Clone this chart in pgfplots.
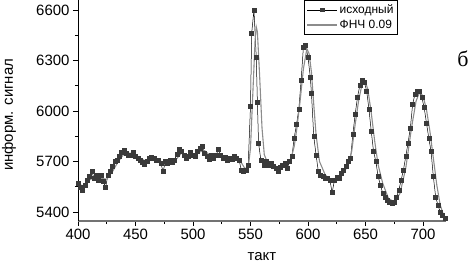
\documentclass[border=0pt]{standalone}
\usepackage{pgfplots}
\pgfplotsset{compat=1.18}
\usepackage{fontspec}
\setmainfont{Liberation Sans}
\newfontfamily\seriffont{Liberation Serif}
\definecolor{rawc}{HTML}{3A3A3A}
\definecolor{filtc}{HTML}{8C8C8C}
\begin{document}
\begin{tikzpicture}
\useasboundingbox (-78bp,-46bp) rectangle (392bp,221bp);
\begin{axis}[at={(0,0)}, anchor=south west, scale only axis,
  width=368bp, height=221bp,
  xmin=400, xmax=720, ymin=5346.5, ymax=6659.4,
  axis x line*=bottom, axis y line*=left,
  x axis line style={-, draw=black!55, line width=1.4bp},
  y axis line style={-, draw=black, line width=0.9bp},
  xtick={400,450,...,700}, ytick={5400,5700,6000,6300,6600},
  minor x tick num=1, minor y tick num=1,
  tick align=outside, major tick length=5bp, minor tick length=3bp,
  tick style={black, line width=0.7bp},
  tick label style={font=\fontsize{15}{18}\selectfont},
  /pgf/number format/assume math mode=true,
  /pgf/number format/1000 sep={},
  xlabel={такт}, ylabel={информ. сигнал},
  label style={font=\fontsize{15}{18}\selectfont},
  xlabel style={at={(axis description cs:0.5,-0.163)}, anchor=center},
  ylabel style={at={(axis description cs:-0.1875,0.48)}, anchor=center},
  legend style={at={(rel axis cs:0.615,0.998)}, anchor=north west,
    font=\fontsize{12}{14}\selectfont, draw=black, line width=0.6bp,
    inner sep=2bp, row sep=1bp},
  legend cell align=left,
]
\addplot[black, line width=0.5bp, mark=square*, mark size=2bp,
  mark options={draw=rawc, fill=rawc},
  legend image code/.code={
    \draw[black, line width=0.5bp] (0bp,0bp) -- (30bp,0bp);
    \fill[rawc] (13bp,-1.8bp) rectangle (16.6bp,1.8bp);}] coordinates {
(400,5570)(402,5545)(404,5530)(406,5560)(408,5590)(410,5610)(412,5640)(414,5600)
(416,5620)(418,5590)(420,5620)(422,5580)(424,5545)(426,5620)(428,5640)(430,5670)
(432,5700)(434,5710)(436,5730)(438,5755)(440,5765)(442,5750)(444,5740)(446,5735)
(448,5755)(450,5730)(452,5720)(454,5710)(456,5695)(458,5685)(460,5700)(462,5720)
(464,5725)(466,5720)(468,5705)(470,5710)(472,5690)(474,5640)(476,5700)(478,5690)
(480,5705)(482,5695)(484,5710)(486,5745)(488,5775)(490,5760)(492,5735)(494,5720)
(496,5730)(498,5755)(500,5740)(502,5730)(504,5760)(506,5780)(508,5790)(510,5750)
(512,5730)(514,5715)(516,5740)(518,5720)(520,5735)(522,5770)(524,5740)(526,5720)
(528,5725)(530,5710)(532,5720)(534,5715)(536,5730)(538,5720)(540,5710)(542,5650)
(544,5640)(546,5650)(548,5680)(550,6030)(551,6460)(553,6600)(555,6320)(556,6050)
(557,5810)(559,5710)(562,5680)(564,5700)(566,5680)(568,5690)(570,5670)(572,5660)
(574,5640)(576,5665)(578,5680)(580,5690)(582,5660)(584,5700)(586,5730)(588,5840)
(590,5920)(592,6010)(594,6180)(596,6380)(598,6390)(600,6320)(602,6200)(603,6105)
(605,5850)(607,5740)(609,5640)(611,5620)(613,5610)(615,5600)(617,5600)(619,5590)
(621,5515)(623,5590)(625,5605)(627,5600)(629,5630)(631,5650)(633,5670)(635,5700)
(637,5720)(639,5860)(641,5980)(643,6080)(645,6150)(647,6185)(649,6170)(651,6120)
(653,6010)(655,5880)(657,5760)(659,5700)(661,5610)(663,5560)(665,5510)(667,5490)
(669,5470)(671,5455)(673,5450)(675,5460)(677,5490)(679,5530)(681,5590)(683,5650)
(685,5730)(687,5810)(689,5900)(691,6040)(693,6100)(695,6120)(697,6115)(699,6080)
(701,6020)(703,5930)(705,5840)(707,5760)(709,5610)(711,5490)(713,5440)(715,5400)
(717,5380)(719,5360)
};
\addlegendentry{исходный}
\addplot[filtc, line width=1.1bp, no marks,
  legend image code/.code={
    \draw[filtc, line width=1.1bp] (0bp,0bp) -- (30bp,0bp);}] coordinates {
(400,5565)(405,5555)(410,5590)(415,5610)(420,5600)(425,5595)(430,5640)(435,5700)
(440,5745)(445,5750)(450,5740)(455,5715)(460,5700)(465,5715)(470,5710)(475,5690)
(480,5695)(485,5710)(490,5750)(495,5740)(500,5740)(505,5755)(510,5765)(515,5735)
(520,5730)(525,5740)(530,5720)(535,5720)(540,5715)(545,5660)(548,5660)(550,5780)
(552,6100)(554,6420)(555,6500)(556,6470)(558,6200)(560,5900)(562,5740)(565,5690)
(570,5680)(575,5660)(580,5680)(585,5710)(588,5790)(590,5880)(593,6050)(596,6250)
(599,6370)(601,6340)(603,6230)(605,6040)(607,5860)(610,5700)(615,5620)(620,5590)
(625,5590)(630,5620)(635,5680)(638,5760)(641,5920)(644,6060)(647,6160)(650,6170)
(652,6130)(655,5990)(658,5820)(661,5680)(665,5570)(670,5480)(675,5460)(680,5510)
(685,5660)(690,5900)(694,6060)(697,6110)(700,6090)(703,6010)(706,5880)(709,5720)
(712,5560)(715,5440)(718,5380)(720,5360)
};
\addlegendentry{ФНЧ 0.09}
\end{axis}
\node[font=\seriffont\fontsize{22}{24}\selectfont, anchor=center] at (385bp,162bp) {б};
\end{tikzpicture}
\end{document}
